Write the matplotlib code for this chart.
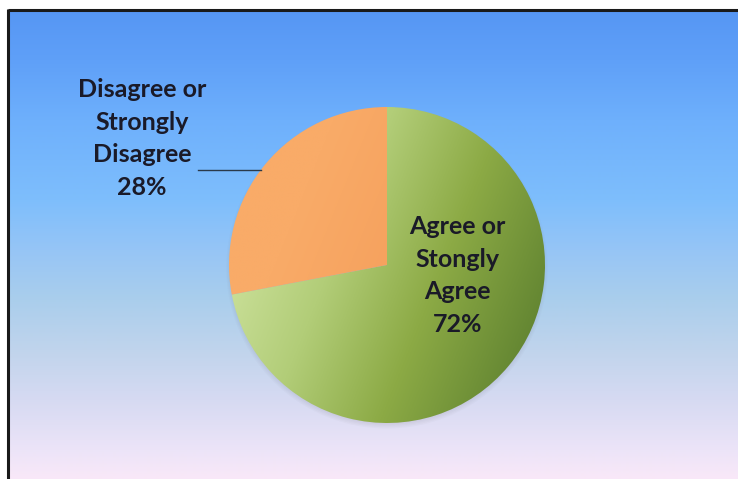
import numpy as np
import matplotlib
matplotlib.use("Agg")
import matplotlib.pyplot as plt
from matplotlib.colors import LinearSegmentedColormap

# Survey response shares
labels = ["Agree or\nStongly\nAgree", "Disagree or\nStrongly\nDisagree"]
values = [72, 28]
slice_colors = ["#93b24a", "#f7a460"]

W, H, DPI = 738, 479, 100
fig = plt.figure(figsize=(W / DPI, H / DPI), dpi=DPI)
fig.patch.set_facecolor("white")

# Background panel with a vertical blue-to-pink gradient
bg = fig.add_axes([0, 0, 1, 1])
bg.set_xlim(0, W)
bg.set_ylim(H, 0)
bg.axis("off")
stops_y = [10, 60, 120, 200, 250, 300, 350, 400, 450, 479]
stops_c = [(86, 150, 244), (95, 160, 248), (110, 176, 252), (126, 190, 252),
           (150, 197, 246), (170, 206, 236), (192, 212, 236), (214, 218, 242),
           (236, 228, 248), (249, 232, 248)]
ys = np.arange(10, H + 1)
grad = np.stack([np.interp(ys, stops_y, [c[i] for c in stops_c]) for i in range(3)], axis=-1) / 255
bg.imshow(grad[:, None, :], extent=[8, W, H, 10], aspect="auto", interpolation="bilinear", zorder=0)
bg.plot([8, W], [9.5, 9.5], color="#1a1a1a", lw=2.2, zorder=2, solid_capstyle="butt")
bg.plot([7.5, 7.5], [9, H], color="#1a1a1a", lw=2.2, zorder=2, solid_capstyle="butt")

# Pie axes (a little margin around the unit circle for the shadow)
cx, cy, r = 387, 265, 158
m = 1.1
ax = fig.add_axes([(cx - m * r) / W, (H - cy - m * r) / H, 2 * m * r / W, 2 * m * r / H])
ax.axis("off")

wedges, _ = ax.pie(values, colors=slice_colors, startangle=90, counterclock=False,
                   radius=1.0, center=(0, 0), frame=False,
                   wedgeprops=dict(linewidth=0, zorder=2))
ax.set_xlim(-m, m)
ax.set_ylim(-m, m)
ax.set_aspect("equal")

# Soft drop shadow below the pie
for k in range(5):
    sh = plt.Circle((0.0, -0.018), 0.985 + 0.008 * k, color="#7a7a88", alpha=0.04,
                    lw=0, zorder=1)
    ax.add_patch(sh)

# Shaded fill for the green slice
green_cmap = LinearSegmentedColormap.from_list(
    "g", [(0.0, "#d2e6a4"), (0.35, "#b2cd78"), (0.65, "#8caa45"), (1.0, "#5f8230")])
gx, gy = np.meshgrid(np.linspace(-1, 1, 400), np.linspace(1, -1, 400))
ang = np.deg2rad(-22)
t = (gx * np.cos(ang) + gy * np.sin(ang) + 1.1) / 2.2
im = ax.imshow(t, extent=[-1, 1, -1, 1], cmap=green_cmap, vmin=0, vmax=1,
               interpolation="bilinear", zorder=3)
im.set_clip_path(wedges[0])
wedges[0].set_facecolor("none")

# Slight shading for the orange slice
orange_cmap = LinearSegmentedColormap.from_list("o", ["#f9ab68", "#f49c58"])
im2 = ax.imshow(t, extent=[-1, 1, -1, 1], cmap=orange_cmap, vmin=0.2, vmax=0.7,
                interpolation="bilinear", zorder=3)
im2.set_clip_path(wedges[1])
wedges[1].set_facecolor("none")
ax.set_xlim(-m, m)
ax.set_ylim(-m, m)

txt_kw = dict(family=["Lato", "DejaVu Sans"], fontweight="bold", fontsize=18,
              color="#1a1a28", ha="center", va="center", linespacing=1.5)

# Inside label for the larger slice
ax.text(0.445, -0.065, f"{labels[0]}\n{values[0]}%", zorder=5, **txt_kw)

# Outside label with leader line for the smaller slice
w = wedges[1]
mid = np.deg2rad((w.theta1 + w.theta2) / 2 + 2.5)
ex, ey = np.cos(mid), np.sin(mid)
ax.text(-1.55, 0.80, f"{labels[1]}\n{values[1]}%", zorder=5, clip_on=False, **txt_kw)
ax.plot([-1.195, ex], [ey, ey], color="#2a3a4a", lw=1.0, zorder=5, clip_on=False)

fig.savefig("out.png", dpi=DPI)
